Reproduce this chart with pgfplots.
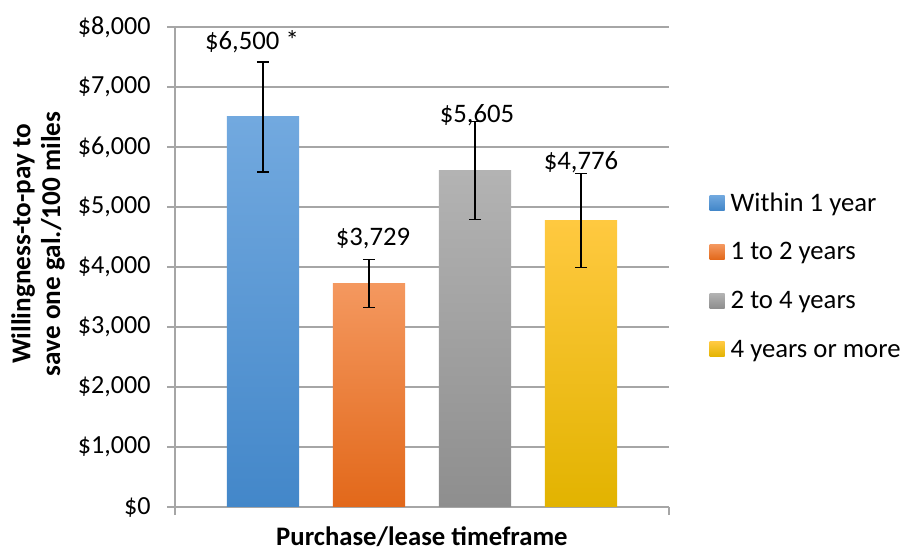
\documentclass[border=0pt]{standalone}
\usepackage{fontspec}
\setmainfont{Carlito}
\usepackage{pgfplots}
\pgfplotsset{compat=1.18}
\definecolor{gridgray}{HTML}{A6A6A6}
\definecolor{bluetop}{HTML}{72A9DF}
\definecolor{bluebot}{HTML}{4387C9}
\definecolor{orangetop}{HTML}{F4985F}
\definecolor{orangebot}{HTML}{E2681A}
\definecolor{graytop}{HTML}{B3B3B3}
\definecolor{graybot}{HTML}{8E8E8E}
\definecolor{yellowtop}{HTML}{FFC940}
\definecolor{yellowbot}{HTML}{E2B300}
\begin{document}
\begin{tikzpicture}[font=\fontsize{26.8}{31}\selectfont]
\path[use as bounding box] (-175bp,-44bp) rectangle (729bp,507bp);
\begin{axis}[
  scale only axis,
  width=494bp, height=480bp,
  xmin=0.17, xmax=4.83,
  ymin=0, ymax=8000,
  xtick={0.17,4.83}, xticklabels={},
  ytick={0,1000,2000,3000,4000,5000,6000,7000,8000},
  yticklabels={{\$0},{\$1,000},{\$2,000},{\$3,000},{\$4,000},{\$5,000},{\$6,000},{\$7,000},{\$8,000}},
  every tick label/.append style={font=\fontsize{26.2}{31}\selectfont},
  yticklabel style={xshift=-13bp},
  axis x line*=bottom, axis y line*=left,
  x axis line style={-}, y axis line style={-},
  axis line style={draw=gridgray, line width=1.3bp},
  tick align=outside,
  major tick length=8bp,
  tick style={draw=gridgray, line width=1.3bp},
  ymajorgrids,
  grid style={draw=gridgray, line width=1.3bp},
  xlabel={\bfseries Purchase/lease timeframe},
  xlabel style={at={(axis description cs:0.5,0)}, anchor=base, yshift=-38bp, font=\fontsize{26.8}{31}\selectfont},
  ylabel={\bfseries Willingness-to-pay to\\\bfseries save one gal./100 miles},
  ylabel style={at={(axis description cs:-0.2773,0.548)}, anchor=center, align=center, font=\fontsize{27.3}{30}\selectfont},
  legend style={draw=none, fill=none, at={(axis description cs:1.082,0.482)}, anchor=west,
    row sep=26bp, font=\fontsize{26.8}{31}\selectfont, inner sep=0pt},
  legend cell align=left,
  legend image code/.code={\path[#1, draw=none] (0bp,-7.5bp) rectangle (15bp,7.5bp); \path (0bp,0bp) -- (19bp,0bp);},
]
\addplot[ybar, bar width=0.68, bar shift=0pt, draw=none, top color=bluetop, bottom color=bluebot,
  nodes near coords={{\$6,500 *}},
  every node near coord/.append style={anchor=center, yshift=75bp, xshift=-11bp, text=black}]
  coordinates {(1,6500)};
\addlegendentry{Within 1 year}
\addplot[ybar, bar width=0.68, bar shift=0pt, draw=none, top color=orangetop, bottom color=orangebot,
  nodes near coords={{\$3,729}},
  every node near coord/.append style={anchor=center, yshift=45bp, xshift=4bp, text=black}]
  coordinates {(2,3729)};
\addlegendentry{1 to 2 years}
\addplot[ybar, bar width=0.68, bar shift=0pt, draw=none, top color=graytop, bottom color=graybot,
  nodes near coords={{\$5,605}},
  every node near coord/.append style={anchor=center, yshift=56bp, xshift=2bp, text=black}]
  coordinates {(3,5605)};
\addlegendentry{2 to 4 years}
\addplot[ybar, bar width=0.68, bar shift=0pt, draw=none, top color=yellowtop, bottom color=yellowbot,
  nodes near coords={{\$4,776}},
  every node near coord/.append style={anchor=center, yshift=58bp, text=black}]
  coordinates {(4,4776)};
\addlegendentry{4 years or more}
\addplot[forget plot, draw=none, mark=none,
  error bars/.cd, y dir=both, y explicit,
  error bar style={draw=black, solid, line width=1.2bp},
  error mark options={draw=black, rotate=90, mark size=6bp, line width=1.2bp}]
  coordinates {(1,6500) +- (0,917) (2,3729) +- (0,400) (3,5605) +- (0,815) (4,4776) +- (0,780)};
\end{axis}
\end{tikzpicture}
\end{document}
